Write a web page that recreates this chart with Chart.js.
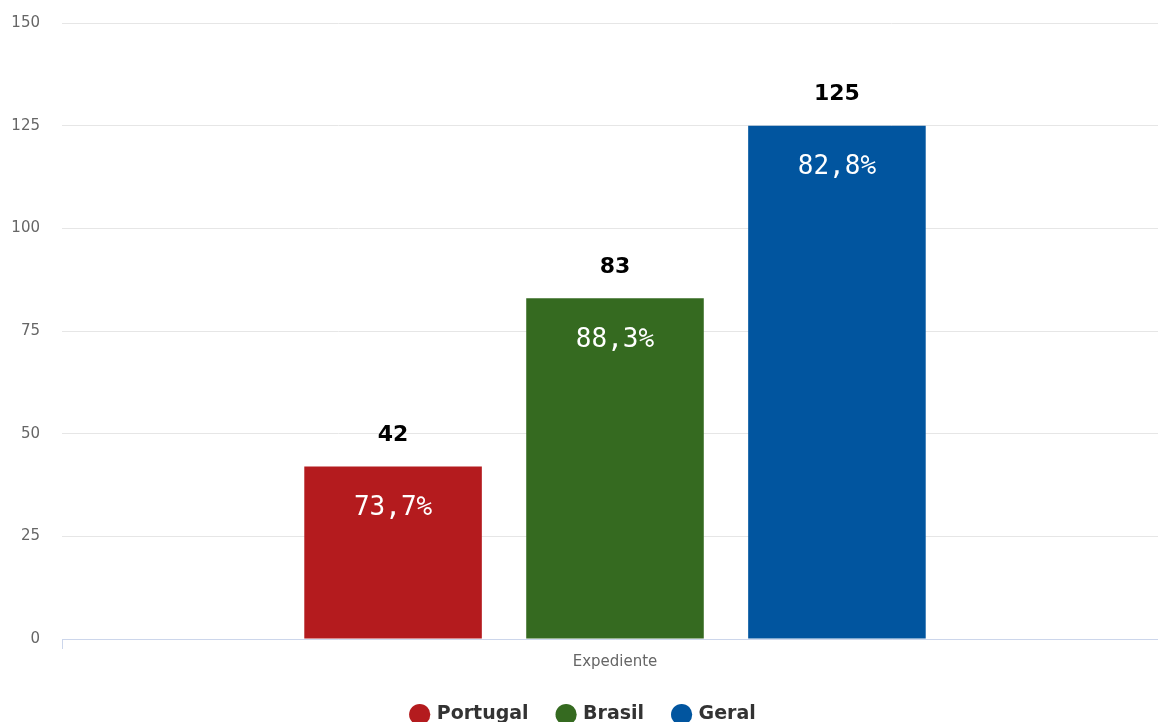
<!DOCTYPE html>
<html>
<head>
<meta charset="utf-8">
<script src="https://cdn.jsdelivr.net/npm/chart.js@4"></script>
<style>
  html, body { margin: 0; padding: 0; background: #fff; overflow: hidden; }
  #wrap { width: 1170px; height: 722px; }
</style>
</head>
<body>
<div id="wrap"><canvas id="myChart"></canvas></div>
<script>
var categories = ['Expediente'];
var seriesNames = ['Portugal', 'Brasil', 'Geral'];
var seriesValues = [42, 83, 125];
var percentLabels = ['73,7%', '88,3%', '82,8%'];
var seriesColors = ['#b41b1e', '#356a20', '#01559f'];
var yTicks = [0, 25, 50, 75, 100, 125, 150];

var datasets = seriesNames.map(function (name, i) {
    return {
        label: name,
        data: [seriesValues[i]],
        backgroundColor: seriesColors[i],
        borderWidth: 0,
        categoryPercentage: 0.602,
        barPercentage: 0.8
    };
});

// value above bar, percentage inside the bar
var barLabels = {
    id: 'barLabels',
    afterDatasetsDraw: function (chart) {
        var ctx = chart.ctx;
        ctx.save();
        ctx.textAlign = 'center';
        ctx.textBaseline = 'middle';
        chart.data.datasets.forEach(function (ds, i) {
            var bar = chart.getDatasetMeta(i).data[0];
            ctx.fillStyle = '#000';
            ctx.font = 'bold 22px "DejaVu Sans"';
            ctx.fillText(String(ds.data[0]), bar.x, bar.y - 31);
            ctx.fillStyle = '#fff';
            ctx.font = '26px "DejaVu Sans Mono"';
            ctx.fillText(percentLabels[i], bar.x, bar.y + 42);
        });
        ctx.restore();
    }
};

var ctx1 = document.getElementById('myChart').getContext('2d');
var myBarChart = new Chart(ctx1, {
    type: 'bar',
    data: { labels: categories, datasets: datasets },
    options: {
        responsive: true,
        maintainAspectRatio: false,
        animation: false,
        layout: { padding: { top: 23, right: 2, left: 0, bottom: -12 } },
        plugins: {
            legend: {
                position: 'bottom',
                labels: {
                    usePointStyle: true,
                    pointStyle: 'circle',
                    boxWidth: 15,
                    boxHeight: 15,
                    padding: 30,
                    color: '#333',
                    font: { family: '"DejaVu Sans"', size: 19, weight: 'bold' }
                }
            },
            tooltip: { enabled: false }
        },
        scales: {
            x: {
                offset: true,
                grid: { display: true, drawOnChartArea: false, color: '#ccd6eb', tickLength: 10 },
                border: { color: '#ccd6eb' },
                ticks: { color: '#666', padding: 4, font: { family: '"DejaVu Sans"', size: 15 } }
            },
            y: {
                min: yTicks[0],
                max: yTicks[yTicks.length - 1],
                afterBuildTicks: function (axis) {
                    axis.ticks = yTicks.map(function (v) { return { value: v }; });
                },
                afterFit: function (axis) {
                    axis.width = 62;
                    axis.paddingTop = 0;
                },
                grid: { color: '#e6e6e6', drawTicks: false },
                border: { display: false },
                ticks: { color: '#666', padding: 22, font: { family: '"DejaVu Sans"', size: 15 } }
            }
        }
    },
    plugins: [barLabels]
});
</script>
</body>
</html>
